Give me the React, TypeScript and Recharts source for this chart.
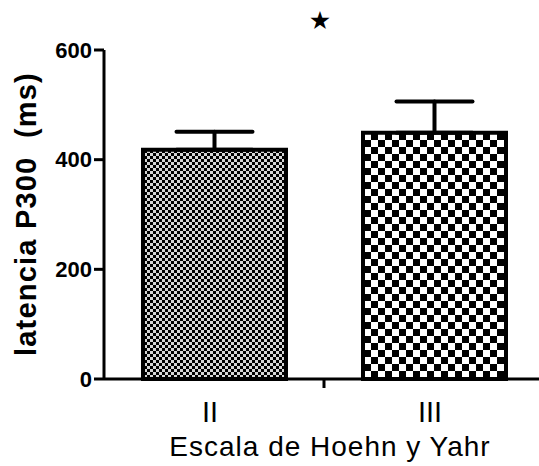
import { BarChart, Bar, XAxis, YAxis, ErrorBar, Cell } from "recharts";

// Hoehn & Yahr stage vs P300 latency (mean + SEM)
const grades = ["II", "III"];
const latency = [418, 449];
const sem = [33, 57];
const yTicks = [0, 200, 400, 600];
const patterns = ["url(#fineCheck)", "url(#coarseCheck)"];

const data = grades.map((g, i) => ({ grade: g, latency: latency[i], err: [0, sem[i]] }));

const font = "'Liberation Sans', Arial, sans-serif";

function GradeTick(props: any) {
  const { x, y, payload, index, width } = props;
  const half = width ? width / 4 : 110;
  return (
    <g>
      <text x={x - 4} y={y + 43} textAnchor="middle" fontFamily={font} fontSize={29} fill="#000">
        {payload.value}
      </text>
      {index === 0 && <line x1={x + half} x2={x + half} y1={y} y2={y + 9} stroke="#000" strokeWidth={3} />}
    </g>
  );
}

function YLabel() {
  return (
    <text
      x={36}
      y={214}
      transform="rotate(-90 36 214)"
      textAnchor="middle"
      fontFamily={font}
      fontWeight="bold"
      fontSize={29}
      letterSpacing={1.2}
      style={{ whiteSpace: "pre" }}
      fill="#000"
    >
      {"latencia P300  (ms)"}
    </text>
  );
}

function XLabel() {
  return (
    <text x={330} y={456} textAnchor="middle" fontFamily={font} fontSize={28} letterSpacing={1} fill="#000">
      Escala de Hoehn y Yahr
    </text>
  );
}

export default function App() {
  return (
    <div style={{ position: "absolute", left: 0, top: 0, width: 539, height: 466, overflow: "hidden", background: "#fff" }}>
      <svg width={0} height={0} style={{ position: "absolute" }}>
        <defs>
          <pattern id="fineCheck" patternUnits="userSpaceOnUse" width={6} height={6}>
            <rect width={6} height={6} fill="#fff" />
            <rect width={6} height={6} fill="#8a8a8a" opacity={0.35} />
            <rect x={0} y={0} width={3} height={3} fill="#000" />
            <rect x={3} y={3} width={3} height={3} fill="#000" />
          </pattern>
          <pattern id="coarseCheck" patternUnits="userSpaceOnUse" width={14} height={14}>
            <rect width={14} height={14} fill="#fff" />
            <rect x={0} y={0} width={7} height={7} fill="#000" />
            <rect x={7} y={7} width={7} height={7} fill="#000" />
          </pattern>
        </defs>
      </svg>
      <div
        style={{
          position: "absolute",
          left: 320,
          top: 20,
          transform: "translate(-50%, -50%)",
          fontFamily: "'DejaVu Sans', sans-serif",
          fontSize: 25,
          lineHeight: 1,
          color: "#000",
        }}
      >
        ★
      </div>
      <BarChart width={544} height={466} data={data} margin={{ top: 50, right: 0, bottom: 0, left: 0 }}>
        <XAxis
          dataKey="grade"
          height={87}
          axisLine={{ stroke: "#000", strokeWidth: 3 }}
          tickLine={false}
          tickSize={0}
          tickMargin={0}
          tick={<GradeTick />}
          label={<XLabel />}
        />
        <YAxis
          width={104}
          domain={[0, 600]}
          ticks={yTicks}
          interval={0}
          axisLine={{ stroke: "#000", strokeWidth: 3 }}
          tickLine={{ stroke: "#000", strokeWidth: 3 }}
          tickSize={10}
          tickMargin={2}
          tick={{ fill: "#000", fontFamily: font, fontWeight: "bold", fontSize: 22 }}
          label={<YLabel />}
        />
        <Bar dataKey="latency" barSize={143} isAnimationActive={false}>
          {data.map((d, i) => (
            <Cell key={d.grade} fill={patterns[i]} stroke="#000" strokeWidth={4} />
          ))}
          <ErrorBar dataKey="err" width={38} stroke="#000" strokeWidth={4} strokeLinecap="round" isAnimationActive={false} />
        </Bar>
      </BarChart>
    </div>
  );
}
